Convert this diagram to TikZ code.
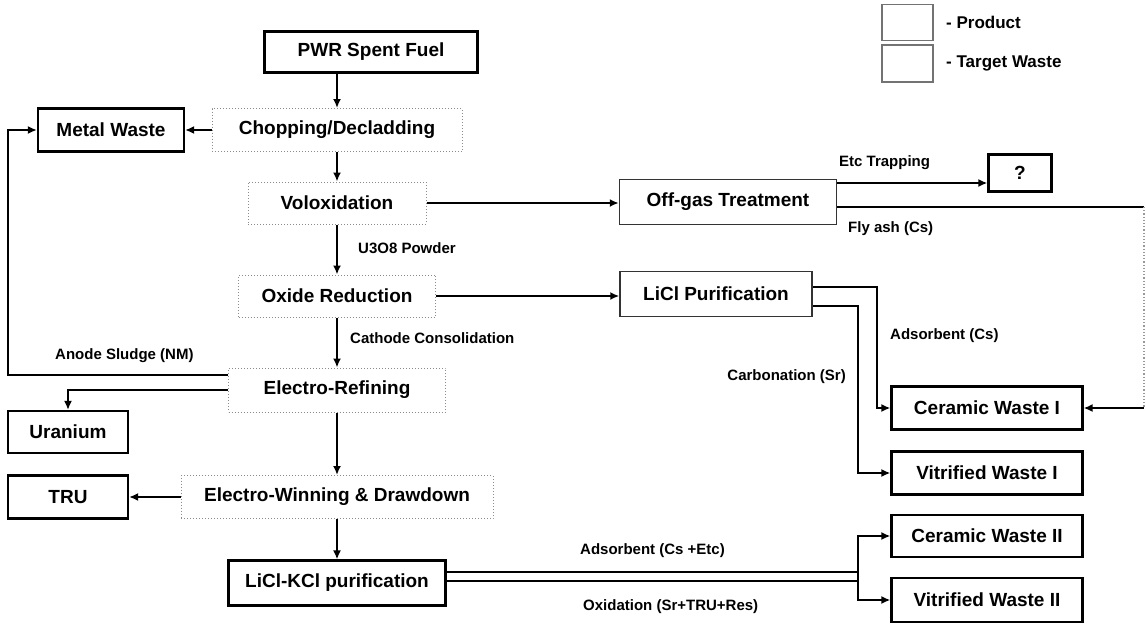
\documentclass[tikz,border=0pt]{standalone}
\usepackage{fontspec}
\setmainfont{Liberation Sans}
\usetikzlibrary{arrows.meta,calc}
\begin{document}
\begin{tikzpicture}[x=1pt,y=-1pt,
  boxtext/.style={font=\fontsize{19}{21}\selectfont\bfseries, inner sep=0pt, align=center},
  prod/.style={boxtext, draw=black, line width=2.2pt},
  mid/.style={boxtext, draw=black!80, line width=1.5pt},
  proc/.style={boxtext, draw=black!45, dotted, line width=1pt},
  lbl/.style={font=\fontsize{15}{17}\selectfont\bfseries, inner sep=0pt},
  legtext/.style={font=\fontsize{17}{19}\selectfont\bfseries, inner sep=0pt, anchor=west},
  legbox/.style={draw=black!55, line width=1.4pt, minimum width=51pt, minimum height=36pt, inner sep=0pt},
  conn/.style={line width=2.6pt, -{Latex[length=9pt,width=8pt]}},
  plain/.style={line width=2.6pt}
]
\useasboundingbox (0,0) rectangle (1146,625);

% legend
\node[legbox] (lg1) at (907.5,22.5) {};
\node[legbox, minimum height=37pt] (lg2) at (907.5,63.5) {};
\node[legtext] (lgt1) at (946,22) {- Product};
\node[legtext] (lgt2) at (946,63) {- Target Waste};

% main column
\node[prod, minimum width=213pt, minimum height=41pt] (pwr) at (371,52) {PWR Spent Fuel};
\node[proc, minimum width=250pt, minimum height=43pt] (chop) at (337,130) {Chopping/Decladding};
\node[proc, minimum width=178pt, minimum height=42pt] (volox) at (337,203) {Voloxidation};
\node[proc, minimum width=197pt, minimum height=42pt] (oxide) at (337,296) {Oxide Reduction};
\node[proc, minimum width=217pt, minimum height=44pt] (er) at (337,390) {Electro-Refining};
\node[proc, minimum width=312pt, minimum height=43pt] (ew) at (337,497) {Electro-Winning \& Drawdown};
\node[prod, minimum width=217pt, minimum height=45pt] (lkp) at (337,583) {LiCl-KCl purification};

% left products
\node[prod, minimum width=146pt, minimum height=43pt] (mw) at (111,130) {Metal Waste};
\node[prod, minimum width=120pt, minimum height=42pt] (ur) at (68,432) {Uranium};
\node[prod, minimum width=120pt, minimum height=43pt] (tru) at (68,497) {TRU};

% right side
\node[mid, minimum width=217pt, minimum height=45pt] (offgas) at (728,202) {Off-gas Treatment};
\node[prod, minimum width=63pt, minimum height=37pt] (q) at (1020,173) {?};
\node[mid, minimum width=192pt, minimum height=45pt] (licl) at (716,294) {LiCl Purification};
\node[prod, minimum width=191pt, minimum height=43pt] (cw1) at (987,408) {Ceramic Waste I};
\node[prod, minimum width=191pt, minimum height=43pt] (vw1) at (987,473) {Vitrified Waste I};
\node[prod, minimum width=191pt, minimum height=42pt] (cw2) at (987,536) {Ceramic Waste II};
\node[prod, minimum width=191pt, minimum height=44pt] (vw2) at (987,600) {Vitrified Waste II};

% helper coordinates
\coordinate (lb) at (8,250);
\coordinate (rx) at (1144,300);
\coordinate (ax) at (877,350);
\coordinate (bx) at (858,400);
\coordinate (cx) at (858,550);

% main flow
\draw[conn] (chop.north |- pwr.south) -- (chop.north);
\draw[conn] (chop.west) -- (mw.east);
\draw[conn] (chop.south) -- (volox.north);
\draw[conn] (volox.east) -- (volox.east -| offgas.west);
\draw[conn] (volox.south) -- (oxide.north);
\draw[conn] (oxide.east) -- (oxide.east -| licl.west);
\draw[conn] (oxide.south) -- (er.north);
\draw[conn] ($(er.west)+(0,-15)$) -| (lb) |- (mw.west);
\draw[conn] (er.west) -| (ur.north);
\draw[conn] (er.south) -- (ew.north);
\draw[conn] (ew.west) -- (tru.east);
\draw[conn] (ew.south) -- (lkp.north);

% off-gas branches
\coordinate (og1) at ($(offgas.east)+(0,-19)$);
\draw[conn] (og1) -- (og1 -| q.west);
\coordinate (og2) at ($(offgas.east)+(0,5)$);
\draw[plain] (og2) -- (og2 -| rx);
\draw[black!40, dotted, line width=1.2pt] (og2 -| rx) -- (rx |- cw1.east);
\draw[conn] (rx |- cw1.east) -- (cw1.east);

% LiCl branches
\draw[conn] ($(licl.east)+(0,-7)$) -| (ax) |- (cw1.west);
\draw[conn] ($(licl.east)+(0,12)$) -| (bx) |- (vw1.west);

% LiCl-KCl branches
\draw[conn] ($(lkp.east)+(0,-11)$) -| (cx) |- (cw2.west);
\draw[conn] ($(lkp.east)+(0,-2)$) -| (cx) |- (vw2.west);

% labels
\node[lbl, anchor=west] (l1) at (358,248) {U3O8 Powder};
\node[lbl, anchor=west] (l2) at (350,338) {Cathode Consolidation};
\node[lbl, anchor=west] (l3) at (55,356) {Anode Sludge (NM)};
\node[lbl, anchor=west] (l4) at (839,163) {Etc Trapping};
\node[lbl, anchor=west] (l5) at (848,229) {Fly ash (Cs)};
\node[lbl, anchor=west] (l6) at (890,336) {Adsorbent (Cs)};
\node[lbl, anchor=east] (l7) at (846,377) {Carbonation (Sr)};
\node[lbl, anchor=west] (l8) at (580,551) {Adsorbent (Cs +Etc)};
\node[lbl, anchor=west] (l9) at (583,607) {Oxidation (Sr+TRU+Res)};
\end{tikzpicture}
\end{document}
